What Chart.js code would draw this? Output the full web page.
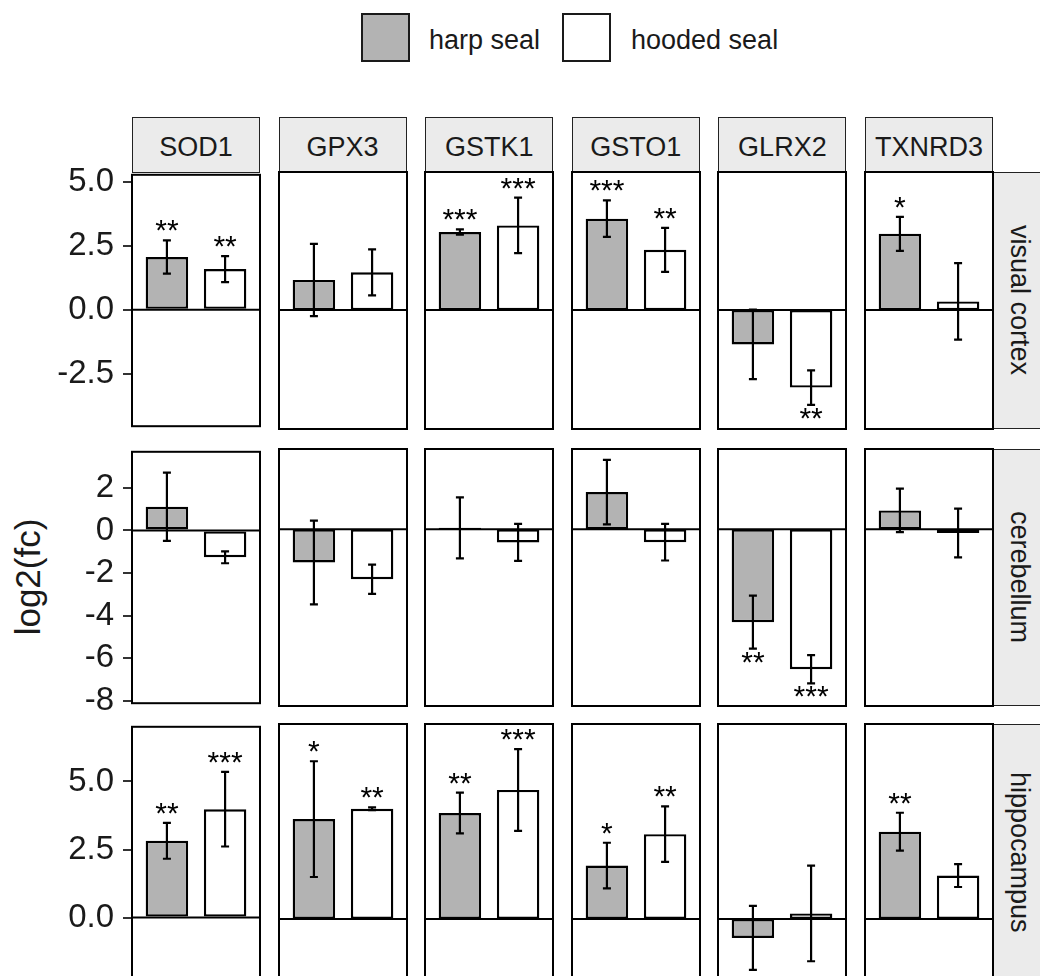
<!DOCTYPE html>
<html>
<head>
<meta charset="utf-8">
<script src="https://cdn.jsdelivr.net/npm/chart.js@4.4.1/dist/chart.umd.min.js"></script>
<style>
  body { margin: 0; background: #fff; }
  #fig { position: relative; width: 1040px; height: 976px; overflow: hidden; background: #fff;
         font-family: "Liberation Sans", Arial, sans-serif; color: #1a1a1a; }
  #fig canvas { position: absolute; }
  .strip { position: absolute; box-sizing: border-box; background: #ebebeb; border: 1.5px solid #222;
           display: flex; align-items: center; justify-content: center; font-size: 27px; }
  .vstrip { writing-mode: vertical-rl; }
  .key { position: absolute; box-sizing: border-box; width: 49px; height: 49px; border: 2px solid #1a1a1a; }
  .keytext { position: absolute; font-size: 27px; line-height: 1; white-space: nowrap; }
  #ytitle { position: absolute; font-size: 35px; white-space: nowrap; transform: translate(-50%, -50%) rotate(-90deg); }
</style>
</head>
<body>
<div id="fig">
  <div class="key" style="left:361px;top:13px;background:#b3b3b3"></div>
  <div class="keytext" style="left:429px;top:27px">harp seal</div>
  <div class="key" style="left:562px;top:13px;background:#fff"></div>
  <div class="keytext" style="left:631px;top:27px">hooded seal</div>
  <div id="ytitle" style="left:28px;top:577px">log2(fc)</div>
</div>
<script>
const genes = ['SOD1', 'GPX3', 'GSTK1', 'GSTO1', 'GLRX2', 'TXNRD3']
const tissues = ['visual cortex', 'cerebellum', 'hippocampus']
const species = ['harp seal', 'hooded seal']

// visual cortex
const harpVisual = [2.06, 1.15, 2.98, 3.49, -1.31, 2.91]
const harpVisualSE = [0.65, 1.38, 0.10, 0.70, 1.33, 0.65]
const harpVisualSig = ['**', '', '***', '***', '', '*']
const hoodedVisual = [1.59, 1.44, 3.23, 2.30, -2.96, 0.33]
const hoodedVisualSE = [0.51, 0.88, 1.06, 0.84, 0.66, 1.46]
const hoodedVisualSig = ['**', '', '***', '**', '**', '']

// cerebellum
const harpCereb = [1.11, -1.52, 0.07, 1.71, -4.26, 0.87]
const harpCerebSE = [1.60, 1.92, 1.40, 1.48, 1.22, 1.00]
const harpCerebSig = ['', '', '', '', '**', '']
const hoodedCereb = [-1.26, -2.29, -0.60, -0.59, -6.42, -0.17]
const hoodedCerebSE = [0.28, 0.67, 0.85, 0.84, 0.65, 1.12]
const hoodedCerebSig = ['', '', '', '', '***', '']

// hippocampus
const harpHippo = [2.82, 3.59, 3.81, 1.92, -0.68, 3.14]
const harpHippoSE = [0.66, 2.08, 0.73, 0.82, 1.15, 0.68]
const harpHippoSig = ['**', '*', '**', '*', '', '**']
const hoodedHippo = [3.98, 3.96, 4.64, 3.05, 0.20, 1.56]
const hoodedHippoSE = [1.37, 0.05, 1.47, 1.00, 1.72, 0.41]
const hoodedHippoSig = ['***', '**', '***', '**', '', '']

// y axis per row (free scales)
const yMin = [-4.54, -8.11, -2.23]
const yMax = [5.27, 3.69, 7.01]
const tickValues = [[-2.5, 0, 2.5, 5], [-8, -6, -4, -2, 0, 2], [0, 2.5, 5]]
const tickLabels = [['-2.5', '0.0', '2.5', '5.0'], ['-8', '-6', '-4', '-2', '0', '2'], ['0.0', '2.5', '5.0']]

const rows = [
  { harp: harpVisual, harpSE: harpVisualSE, harpSig: harpVisualSig, hooded: hoodedVisual, hoodedSE: hoodedVisualSE, hoodedSig: hoodedVisualSig },
  { harp: harpCereb, harpSE: harpCerebSE, harpSig: harpCerebSig, hooded: hoodedCereb, hoodedSE: hoodedCerebSE, hoodedSig: hoodedCerebSig },
  { harp: harpHippo, harpSE: harpHippoSE, harpSig: harpHippoSig, hooded: hoodedHippo, hoodedSE: hoodedHippoSE, hoodedSig: hoodedHippoSig }
]

const FONT = '"Liberation Sans", Arial, sans-serif'
const colLeft = genes.map((g, i) => 132 + i * 146.6)
const rowTop = [172, 449, 724]
const panelW = 128
const panelH = 257
const axisW = 132
const pad = 26
const fig = document.getElementById('fig')

const zeroLine = {
  id: 'zeroLine',
  beforeDatasetsDraw(chart) {
    const { ctx, chartArea } = chart
    const y = chart.scales.y.getPixelForValue(0)
    ctx.save()
    ctx.strokeStyle = '#000'
    ctx.lineWidth = 2
    ctx.beginPath()
    ctx.moveTo(chartArea.left, y)
    ctx.lineTo(chartArea.right, y)
    ctx.stroke()
    ctx.restore()
  }
}

const errorBars = {
  id: 'errorBars',
  afterDatasetsDraw(chart, args, opts) {
    const { ctx, chartArea } = chart
    const yScale = chart.scales.y
    const meta = chart.getDatasetMeta(0)
    const values = chart.data.datasets[0].data
    ctx.save()
    ctx.beginPath()
    ctx.rect(chartArea.left, chartArea.top, chartArea.right - chartArea.left, chartArea.bottom - chartArea.top)
    ctx.clip()
    ctx.strokeStyle = '#000'
    ctx.fillStyle = '#000'
    meta.data.forEach((bar, i) => {
      const v = values[i].y
      const se = opts.se[i]
      const top = yScale.getPixelForValue(v + se)
      const bottom = yScale.getPixelForValue(v - se)
      ctx.lineWidth = 2.2
      ctx.beginPath()
      ctx.moveTo(bar.x, top)
      ctx.lineTo(bar.x, bottom)
      ctx.moveTo(bar.x - 4, top)
      ctx.lineTo(bar.x + 4, top)
      ctx.moveTo(bar.x - 4, bottom)
      ctx.lineTo(bar.x + 4, bottom)
      ctx.stroke()

      const sig = opts.sig[i]
      if (sig) {
        ctx.font = '30px ' + FONT
        ctx.textAlign = 'center'
        ctx.textBaseline = 'alphabetic'
        const y = v >= 0 ? top : bottom + 23
        ctx.fillText(sig, bar.x, y)
      }
    })
    ctx.restore()
  }
}

const panelBorder = {
  id: 'panelBorder',
  afterDraw(chart) {
    const { ctx, chartArea } = chart
    ctx.save()
    ctx.strokeStyle = '#000'
    ctx.lineWidth = 2
    ctx.strokeRect(chartArea.left, chartArea.top, chartArea.right - chartArea.left, chartArea.bottom - chartArea.top)
    ctx.restore()
  }
}

function makePanel(r, c) {
  const row = rows[r]
  const first = c === 0
  const leftExtra = first ? axisW : 4
  const canvas = document.createElement('canvas')
  canvas.width = panelW + leftExtra + 4
  canvas.height = panelH + pad * 2
  canvas.style.left = (colLeft[c] - leftExtra) + 'px'
  canvas.style.top = (rowTop[r] - pad) + 'px'
  fig.appendChild(canvas)

  new Chart(canvas.getContext('2d'), {
    type: 'bar',
    data: {
      datasets: [{
        label: genes[c],
        data: [{ x: 1, y: row.harp[c] }, { x: 2, y: row.hooded[c] }],
        backgroundColor: ['#b3b3b3', '#ffffff'],
        borderColor: '#000',
        borderWidth: 2.4,
        borderSkipped: false,
        barPercentage: 0.73,
        categoryPercentage: 1
      }]
    },
    options: {
      responsive: false,
      animation: false,
      events: [],
      layout: { padding: { left: first ? 0 : 4, right: 4, top: pad, bottom: pad } },
      plugins: {
        legend: { display: false },
        tooltip: { enabled: false },
        errorBars: {
          se: [row.harpSE[c], row.hoodedSE[c]],
          sig: [row.harpSig[c], row.hoodedSig[c]]
        }
      },
      scales: {
        x: {
          type: 'linear', min: 0.4, max: 2.6, offset: false, display: false,
          afterBuildTicks(scale) { scale.ticks = [{ value: 1 }, { value: 2 }] }
        },
        y: {
          min: yMin[r],
          max: yMax[r],
          display: first,
          afterFit(scale) { if (first) scale.width = axisW },
          afterBuildTicks(scale) { scale.ticks = tickValues[r].map(v => ({ value: v })) },
          border: { display: false },
          grid: { display: true, drawOnChartArea: false, drawTicks: true, tickLength: 9, color: '#333', lineWidth: 2 },
          ticks: {
            autoSkip: false,
            padding: 9,
            color: '#1a1a1a',
            font: { size: 33, family: FONT },
            callback: v => tickLabels[r][tickValues[r].indexOf(v)]
          }
        }
      }
    },
    plugins: [zeroLine, errorBars, panelBorder]
  })
}

function addStrip(text, left, top, width, height, vertical) {
  const d = document.createElement('div')
  d.className = 'strip' + (vertical ? ' vstrip' : '')
  d.style.left = left + 'px'
  d.style.top = top + 'px'
  d.style.width = width + 'px'
  d.style.height = height + 'px'
  if (!vertical) d.style.paddingTop = '4px'
  d.textContent = text
  fig.appendChild(d)
}

genes.forEach((g, c) => addStrip(g, colLeft[c], 117, panelW, 56, false))
tissues.forEach((t, r) => addStrip(t, colLeft[5] + panelW, rowTop[r], 52, panelH, true))

tissues.forEach((t, r) => genes.forEach((g, c) => makePanel(r, c)))
</script>
</body>
</html>
